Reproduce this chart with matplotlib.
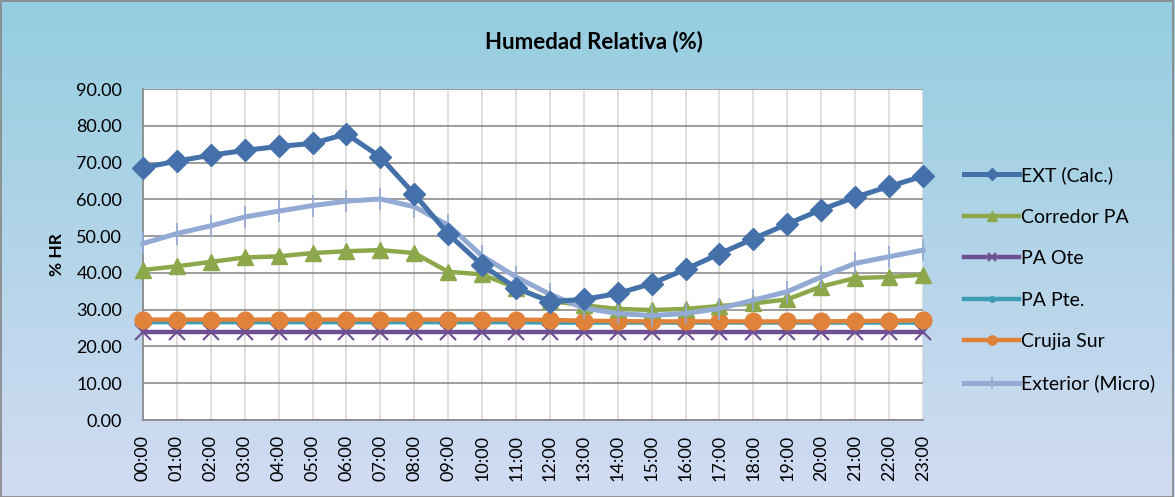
import numpy as np
import matplotlib
matplotlib.use('Agg')
import matplotlib.pyplot as plt
from matplotlib.patches import Rectangle

# data
hours = ['%02d:00' % h for h in range(24)]

ext_calc = [68.6, 70.4, 72.0, 73.3, 74.4, 75.2, 77.8, 71.5, 61.4, 50.6, 42.1, 35.9,
            32.2, 32.8, 34.4, 37.1, 41.0, 45.2, 49.3, 53.3, 57.2, 60.6, 63.5, 66.3]
corredor_pa = [40.8, 41.8, 43.0, 44.2, 44.5, 45.4, 45.9, 46.2, 45.4, 40.3, 39.6, 35.9,
               32.4, 31.2, 30.2, 29.9, 30.2, 31.0, 31.7, 32.8, 36.3, 38.6, 38.9, 39.5]
pa_ote = [24.0] * 24
pa_pte = [26.6, 26.6, 26.6, 26.6, 26.6, 26.6, 26.6, 26.6, 26.6, 26.6, 26.6, 26.6,
          26.5, 26.5, 26.5, 26.5, 26.5, 26.5, 26.5, 26.5, 26.5, 26.5, 26.5, 26.5]
crujia_sur = [27.3, 27.3, 27.3, 27.3, 27.3, 27.3, 27.3, 27.3, 27.3, 27.3, 27.3, 27.3,
              27.2, 27.0, 26.9, 26.8, 26.8, 26.8, 26.8, 26.8, 26.8, 26.9, 27.0, 27.1]
exterior_micro = [48.0, 50.7, 52.8, 55.2, 56.8, 58.3, 59.5, 60.1, 58.0, 53.0, 44.6, 38.9,
                  34.2, 30.4, 29.0, 28.4, 29.0, 30.3, 32.6, 34.9, 38.9, 42.6, 44.4, 46.2]

plt.rcParams['font.family'] = ['Lato', 'DejaVu Sans']

fig = plt.figure(figsize=(11.75, 4.97), dpi=100)

# gradient background
bg = fig.add_axes([0, 0, 1, 1], zorder=-10)
top = np.array([148, 205, 223]) / 255
bot = np.array([210, 220, 243]) / 255
t = np.linspace(0, 1, 256)[:, None]
grad = top * (1 - t) + bot * t
bg.imshow(grad[:, None, :].repeat(2, axis=1), aspect='auto', extent=[0, 1, 0, 1])
bg.set_axis_off()
fig.patches.append(Rectangle((0.0005, 0.001), 0.998, 0.997, transform=fig.transFigure,
                             fill=False, edgecolor='#868686', lw=1.2))

ax = fig.add_axes([0.1217, 0.1549, 0.6638, 0.666])
ax.set_facecolor('white')
x = np.arange(24)

ax.plot(x, ext_calc, color='#4471AA', lw=3.6, marker='D', ms=11, label='EXT (Calc.)', clip_on=False, zorder=6)
ax.plot(x, corredor_pa, color='#8CA84B', lw=3.2, marker='^', ms=12, label='Corredor PA', clip_on=False, zorder=5)
ax.plot(x, pa_ote, color='#6E4F92', lw=3.2, marker='x', ms=11, mew=1.5, label='PA Ote', clip_on=False, zorder=3)
ax.plot(x, pa_pte, color='#3E9DB3', lw=3.2, marker=(6, 2, 0), ms=9, mew=1.5, label='PA Pte.', clip_on=False, zorder=3)
ax.plot(x, crujia_sur, color='#E0823A', lw=3.2, marker='o', ms=12, label='Crujia Sur', clip_on=False, zorder=4)
ax.plot(x, exterior_micro, color='#93AAD4', lw=3.6, marker='|', ms=16, mew=1.2, label='Exterior (Micro)', clip_on=False, zorder=5)

ax.set_xlim(0, 23)
ax.set_ylim(0, 90)
ax.set_yticks(np.arange(0, 91, 10))
ax.set_yticklabels(['%.2f' % v for v in np.arange(0, 91, 10)], fontsize=13)
ax.set_xticks(x)
ax.set_xticklabels(hours, rotation=90, fontsize=13)
ax.tick_params(axis='x', length=0, pad=11)
ax.tick_params(axis='y', length=0, pad=15)

ax.yaxis.grid(True, color='#8C8C8C', lw=1.2, zorder=0)
ax.xaxis.grid(True, color='#D9D9D9', lw=1.2, zorder=0)
ax.set_axisbelow(True)
for s in ['top', 'right']:
    ax.spines[s].set_visible(False)
for s in ['left', 'bottom']:
    ax.spines[s].set_color('#868686')
    ax.spines[s].set_linewidth(1.2)

ax.set_ylabel('% HR', fontsize=12.5, fontweight='bold', labelpad=8)
fig.text(0.5055, 0.9155, 'Humedad Relativa (%)', ha='center', va='center', fontsize=16, fontweight='bold')

fig.legend(loc='center left', bbox_to_anchor=(0.8055, 0.438), frameon=False, fontsize=14,
           labelspacing=1.26, handlelength=2.85, handletextpad=0.08, markerscale=0.55)

fig.savefig('out.png', dpi=100)
